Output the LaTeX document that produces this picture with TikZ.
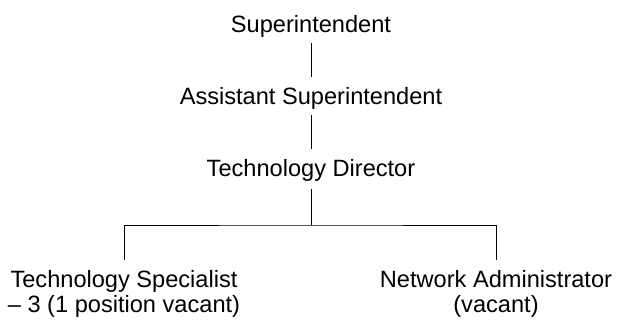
\documentclass[tikz,border=0pt]{standalone}
\usepackage{fontspec}
\setmainfont{Liberation Sans}
\usetikzlibrary{positioning}

\begin{document}
\begin{tikzpicture}[x=1pt, y=-1pt,
		post/.style={anchor=north, inner sep=0pt, align=center, font=\fontsize{23.6}{25}\selectfont},
		link/.style={draw=black, line width=0.9pt}]
			% Frame
			\useasboundingbox (0,0) rectangle (626,325);

			% Posts
			\node[post] (super) at (311,15) {Superintendent};
			\node[post] (assist) at (311,87) {Assistant Superintendent};
			\node[post] (director) at (311,159) {Technology Director};
			\node[post] (specialist) at (124,270) {Technology Specialist\\– 3 (1 position vacant)};
			\node[post] (netadmin) at (496,270) {Network Administrator\\(vacant)};

			% Links
			\coordinate (fork) at (311,225);
			\draw[link, shorten <=6pt, shorten >=10pt] (super) -- (assist);
			\draw[link, shorten <=6pt, shorten >=10pt] (assist) -- (director);
			\draw[link, shorten <=8pt] (director) -- (fork);
			\draw[link, shorten <=10pt, shorten >=10pt] (specialist.north) |- (fork) -| (netadmin.north);
		\end{tikzpicture}
\end{document}
